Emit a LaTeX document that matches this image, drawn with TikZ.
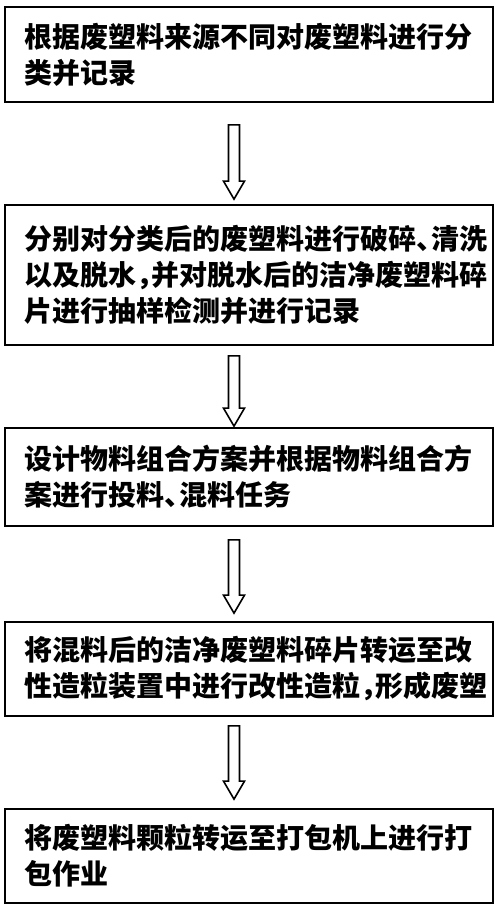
\documentclass[tikz,border=0pt]{standalone}
\usepackage{fontspec}
\setmainfont{Noto Sans CJK SC}
\usetikzlibrary{calc,positioning}

\newcommand{\hpunct}[1]{\makebox[0.55em][l]{#1}}

\begin{document}
\begin{tikzpicture}[x=1pt,y=-1pt,inner sep=0pt,
  stepbox/.style={draw,line width=1.7pt,rectangle,minimum width=488pt,
    text width=450pt,inner xsep=19pt,align=left,
    font=\fontsize{28}{36}\selectfont\bfseries},
  hollow/.style={line width=1.6pt,line join=miter,to path={
    ($(\tikztostart)+(-5.5,0)$) -- ($(\tikztotarget)+(-5.5,-18)$)
    -- ($(\tikztotarget)+(-10.5,-18)$) -- (\tikztotarget)
    -- ($(\tikztotarget)+(10.5,-18)$) -- ($(\tikztotarget)+(5.5,-18)$)
    -- ($(\tikztostart)+(5.5,0)$) -- cycle}}]
\useasboundingbox (0,0) rectangle (500,909);

\node [stepbox,minimum height=95pt] (b1) at (249,54.5)
  {根据废塑料来源不同对废塑料进行分\\类并记录};
\node [stepbox,minimum height=140pt] (b2) at (249,275)
  {分别对分类后的废塑料进行破碎\hpunct{、}清洗\\以及脱水\hpunct{，}并对脱水后的洁净废塑料碎\\片进行抽样检测并进行记录};
\node [stepbox,minimum height=98pt] (b3) at (249,477)
  {设计物料组合方案并根据物料组合方\\案进行投料\hpunct{、}混料任务};
\node [stepbox,minimum height=94pt] (b4) at (249,669)
  {将混料后的洁净废塑料碎片转运至改\\性造粒装置中进行改性造粒\hpunct{，}形成废塑};
\node [stepbox,minimum height=94pt] (b5) at (249,856)
  {将废塑料颗粒转运至打包机上进行打\\包作业};

% hollow arrows between the steps
\draw [hollow] ([xshift=-15pt,yshift=-22pt]b1.south) to ([xshift=-15pt,yshift=5pt]b2.north);
\draw [hollow] ([xshift=-15pt,yshift=-10pt]b2.south) to ([xshift=-15pt,yshift=1pt]b3.north);
\draw [hollow] ([xshift=-15pt,yshift=-13pt]b3.south) to ([xshift=-15pt,yshift=8pt]b4.north);
\draw [hollow] ([xshift=-15pt,yshift=-9pt]b4.south) to ([xshift=-15pt,yshift=9pt]b5.north);
\end{tikzpicture}
\end{document}
